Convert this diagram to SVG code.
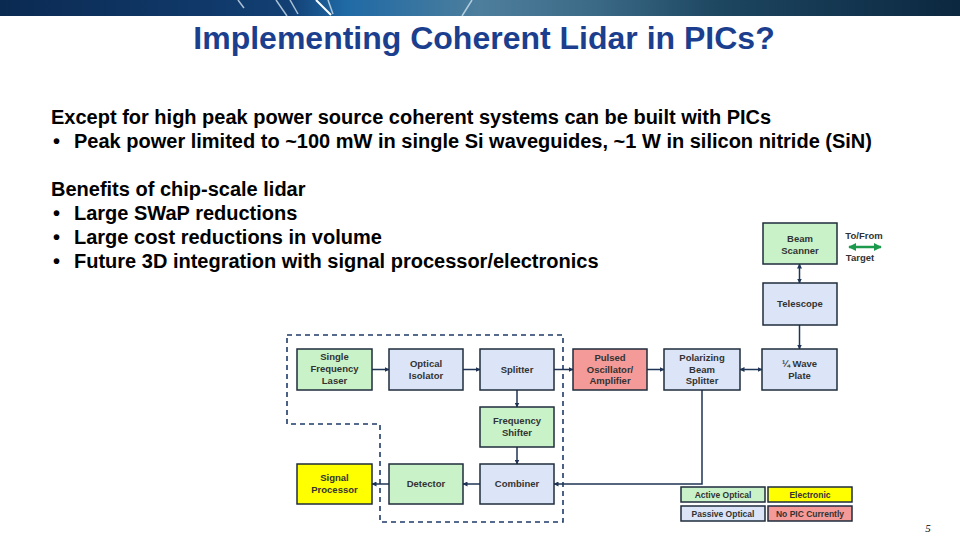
<svg xmlns="http://www.w3.org/2000/svg" width="960" height="540" viewBox="0 0 960 540">
<defs>
<linearGradient id="ban" x1="0" y1="0" x2="1" y2="0">
<stop offset="0" stop-color="#0b2a52"/>
<stop offset="0.3" stop-color="#123f73"/>
<stop offset="0.36" stop-color="#1f6aa6"/>
<stop offset="0.5" stop-color="#4d7e9c"/>
<stop offset="0.62" stop-color="#3b6a86"/>
<stop offset="0.75" stop-color="#1d4660"/>
<stop offset="1" stop-color="#0c2740"/>
</linearGradient>
<marker id="ah" viewBox="0 0 10 10" refX="9" refY="5" markerWidth="5" markerHeight="5" orient="auto-start-reverse" markerUnits="userSpaceOnUse">
<path d="M0,0 L10,5 L0,10 z" fill="#1f3456"/>
</marker>
<marker id="gah" viewBox="0 0 10 10" refX="9" refY="5" markerWidth="8" markerHeight="8" orient="auto-start-reverse" markerUnits="userSpaceOnUse">
<path d="M0,0 L10,5 L0,10 z" fill="#1e9a4c"/>
</marker>
<style>
.body{font-family:"Liberation Sans",Arial,sans-serif;font-weight:bold;font-size:20px;fill:#000}
.title{font-family:"Liberation Sans",Arial,sans-serif;font-weight:bold;font-size:32px;fill:#1b3f8e}
.box{stroke:#1f2d3d;stroke-width:1.5}
.act{fill:#c9f2c9}
.pas{fill:#dbe5f7}
.ele{fill:#ffff00}
.nop{fill:#f49a98}
.lbl{font-family:"Liberation Sans",Arial,sans-serif;font-weight:bold;font-size:9.5px;fill:#333;text-anchor:middle}
.leg{font-family:"Liberation Sans",Arial,sans-serif;font-weight:bold;font-size:8.5px;fill:#333;text-anchor:middle}
.con{fill:none;stroke:#1f3456;stroke-width:1.5}
.dash{fill:none;stroke:#1f3a6a;stroke-width:1.6;stroke-dasharray:5,4}
</style>
</defs>
<rect x="0" y="0" width="960" height="540" fill="#fff"/>
<!-- banner -->
<rect x="0" y="0" width="960" height="16" fill="url(#ban)"/>
<g stroke="#cfe3f0" stroke-width="1.5" opacity="0.8">
<line x1="238" y1="0" x2="244" y2="8"/>
<line x1="276" y1="0" x2="287" y2="16"/>
<line x1="290" y1="0" x2="298" y2="14"/>
<line x1="328" y1="0" x2="333" y2="14"/>
<line x1="472" y1="0" x2="462" y2="16"/>
</g>
<g stroke="#ffffff" stroke-width="2">
<line x1="316" y1="0" x2="331" y2="15"/>
</g>
<!-- title -->
<text class="title" x="484" y="49" text-anchor="middle">Implementing Coherent Lidar in PICs?</text>
<!-- body -->
<text class="body" x="51" y="124">Except for high peak power source coherent systems can be built with PICs</text>
<text class="body" x="53" y="148">•</text>
<text class="body" x="74" y="148">Peak power limited to ~100 mW in single Si waveguides, ~1 W in silicon nitride (SiN)</text>
<text class="body" x="51" y="196">Benefits of chip-scale lidar</text>
<text class="body" x="53" y="220">•</text>
<text class="body" x="74" y="220">Large SWaP reductions</text>
<text class="body" x="53" y="244">•</text>
<text class="body" x="74" y="244">Large cost reductions in volume</text>
<text class="body" x="53" y="268">•</text>
<text class="body" x="74" y="268">Future 3D integration with signal processor/electronics</text>
<!-- PIC boundary -->
<path class="dash" d="M287,335 H563 V522 H380 V424 H287 Z"/>
<!-- connectors -->
<g id="connectors">
<line class="con" x1="372" y1="369.5" x2="389" y2="369.5" marker-end="url(#ah)"/>
<line class="con" x1="463" y1="369.5" x2="480" y2="369.5" marker-end="url(#ah)"/>
<line class="con" x1="554" y1="369.5" x2="573" y2="369.5" marker-end="url(#ah)"/>
<line class="con" x1="647" y1="369.5" x2="664" y2="369.5" marker-end="url(#ah)"/>
<line class="con" x1="740" y1="369.5" x2="762" y2="369.5" marker-start="url(#ah)" marker-end="url(#ah)"/>
<line class="con" x1="517" y1="390" x2="517" y2="407" marker-end="url(#ah)"/>
<line class="con" x1="517" y1="447" x2="517" y2="464" marker-end="url(#ah)"/>
<line class="con" x1="480" y1="484" x2="463" y2="484" marker-end="url(#ah)"/>
<line class="con" x1="389" y1="484" x2="372" y2="484" marker-end="url(#ah)"/>
<polyline class="con" points="702,390 702,484 554,484" marker-end="url(#ah)"/>
<line class="con" x1="799.5" y1="325" x2="799.5" y2="349" marker-end="url(#ah)"/>
<line class="con" x1="799.5" y1="264" x2="799.5" y2="283" marker-start="url(#ah)" marker-end="url(#ah)"/>
<line x1="849" y1="247" x2="881" y2="247" stroke="#1e9a4c" stroke-width="2.5" marker-start="url(#gah)" marker-end="url(#gah)"/>
</g>
<!-- nodes -->
<g id="laser"><rect class="box act" x="297" y="349" width="75" height="41"/><text class="lbl" x="334.5" y="360">Single</text><text class="lbl" x="334.5" y="372">Frequency</text><text class="lbl" x="334.5" y="384">Laser</text></g>
<g id="isolator"><rect class="box pas" x="389" y="349" width="74" height="41"/><text class="lbl" x="426" y="367">Optical</text><text class="lbl" x="426" y="379">Isolator</text></g>
<g id="splitter"><rect class="box pas" x="480" y="349" width="74" height="41"/><text class="lbl" x="517" y="373">Splitter</text></g>
<g id="pulsed"><rect class="box nop" x="573" y="349" width="74" height="41"/><text class="lbl" x="610" y="361">Pulsed</text><text class="lbl" x="610" y="373">Oscillator/</text><text class="lbl" x="610" y="384">Amplifier</text></g>
<g id="pbs"><rect class="box pas" x="664" y="349" width="76" height="41"/><text class="lbl" x="702" y="361">Polarizing</text><text class="lbl" x="702" y="373">Beam</text><text class="lbl" x="702" y="384">Splitter</text></g>
<g id="waveplate"><rect class="box pas" x="762" y="349" width="75" height="41"/><text class="lbl" x="799.5" y="367">¼ Wave</text><text class="lbl" x="799.5" y="379">Plate</text></g>
<g id="telescope"><rect class="box pas" x="763" y="283" width="74" height="42"/><text class="lbl" x="800" y="307">Telescope</text></g>
<g id="scanner"><rect class="box act" x="763" y="223" width="74" height="41"/><text class="lbl" x="800" y="242">Beam</text><text class="lbl" x="800" y="254">Scanner</text></g>
<g id="tofrom"><text class="lbl" x="864" y="239">To/From</text><text class="lbl" x="860" y="261">Target</text></g>
<g id="freqshift"><rect class="box act" x="480" y="407" width="74" height="40"/><text class="lbl" x="517" y="424">Frequency</text><text class="lbl" x="517" y="436">Shifter</text></g>
<g id="combiner"><rect class="box pas" x="480" y="464" width="74" height="40"/><text class="lbl" x="517" y="487">Combiner</text></g>
<g id="detector"><rect class="box act" x="389" y="464" width="74" height="40"/><text class="lbl" x="426" y="487">Detector</text></g>
<g id="sigproc"><rect class="box ele" x="297" y="464" width="75" height="40"/><text class="lbl" x="334.5" y="481">Signal</text><text class="lbl" x="334.5" y="493">Processor</text></g>
<!-- legend -->
<g id="legend">
<rect class="box act" x="681" y="487" width="84" height="15"/><text class="leg" x="723" y="497.5">Active Optical</text>
<rect class="box ele" x="768" y="487" width="84" height="15"/><text class="leg" x="810" y="497.5">Electronic</text>
<rect class="box pas" x="681" y="506" width="84" height="15"/><text class="leg" x="723" y="516.5">Passive Optical</text>
<rect class="box nop" x="768" y="506" width="84" height="15"/><text class="leg" x="810" y="516.5">No PIC Currently</text>
</g>
<text x="928" y="532" font-family="Liberation Serif, serif" font-style="italic" font-size="11" fill="#000" text-anchor="middle">5</text>
</svg>
